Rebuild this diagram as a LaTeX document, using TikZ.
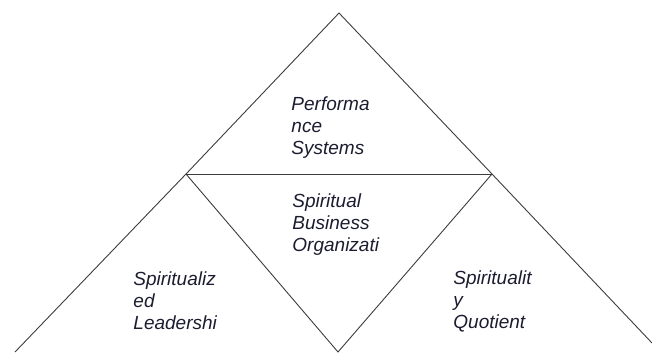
\documentclass[tikz,border=0pt]{standalone}
\usepackage{fontspec}
\setmainfont{Liberation Sans}
\definecolor{edgeK}{RGB}{60,60,60}
\definecolor{txtK}{RGB}{28,28,48}

\begin{document}
\begin{tikzpicture}[x=1bp,y=-1bp,line width=0.9bp,
  every node/.style={font=\fontsize{19bp}{22bp}\selectfont\itshape,text=txtK,align=left,inner sep=0pt,anchor=north west}]
\useasboundingbox (0,0) rectangle (652,352);
% corner points of the triangles
\coordinate (apex) at (339,13); \coordinate (lft) at (186,174); \coordinate (rgt) at (492,174);
\coordinate (bl) at (15,352); \coordinate (br) at (652,343); \coordinate (bot) at (338,352);
\draw[edgeK] (bl)--(lft)--(apex)--(rgt)--(br);
\draw[edgeK] (lft)--(rgt); \draw[edgeK] (lft)--(bot)--(rgt);
% labels
\node (perf) at (291,96) {Performa\\nce\\Systems};
\node (sbo) at (292,193) {Spiritual\\Business\\Organizati};
\node (slead) at (133,271) {Spiritualiz\\ed\\Leadershi};
\node (squot) at (453,270) {Spiritualit\\y\\Quotient};
\end{tikzpicture}
\end{document}
